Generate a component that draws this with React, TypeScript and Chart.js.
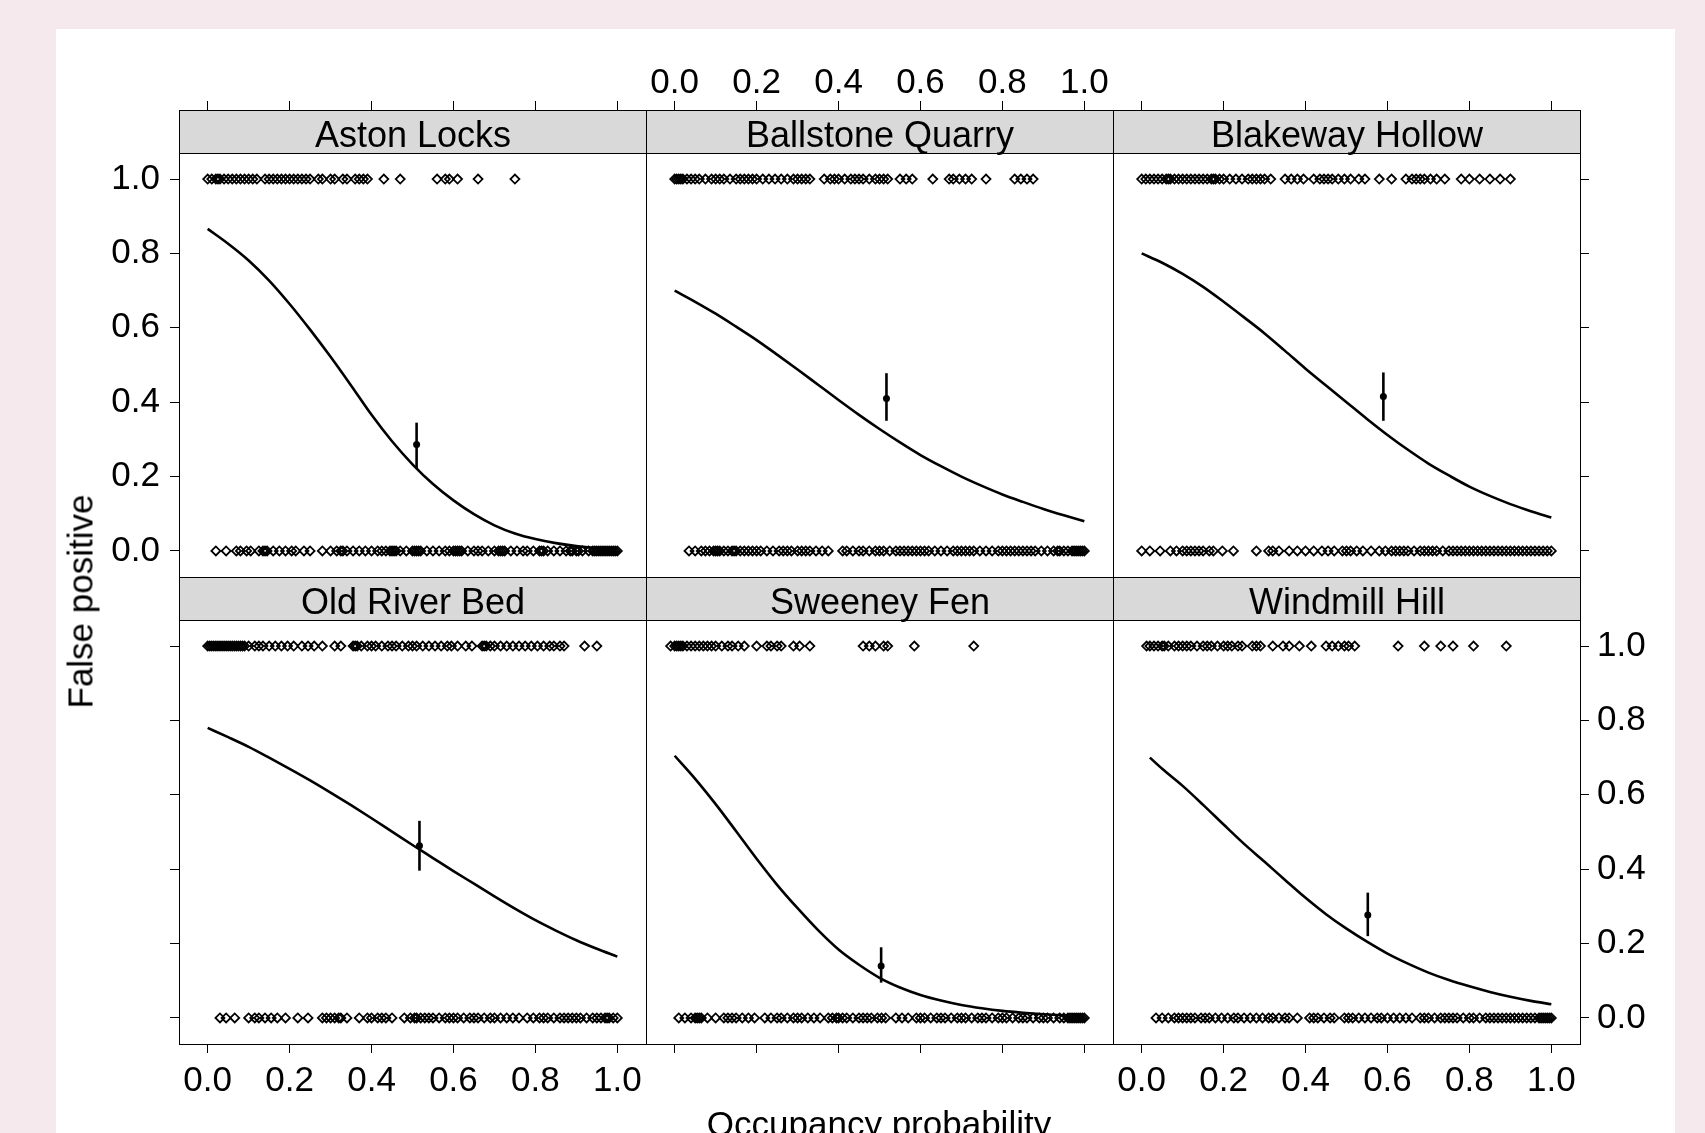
import React, { useEffect, useRef } from "react";
import { Chart, registerables } from "chart.js";

Chart.register(...registerables);

// ---------------- data ----------------
const PANEL_NAMES = ["Aston Locks", "Ballstone Quarry", "Blakeway Hollow", "Old River Bed", "Sweeney Fen", "Windmill Hill"];
const TICK_VALUES = [0, 0.2, 0.4, 0.6, 0.8, 1.0];
const X_TITLE = "Occupancy probability";
const Y_TITLE = "False positive";

// observed x positions of detections (y = 1) and non-detections (y = 0)
const ASTON_TOP = [0.0, 0.01, 0.02, 0.025, 0.03, 0.04, 0.05, 0.06, 0.07, 0.08, 0.09, 0.1, 0.11, 0.12, 0.14, 0.15, 0.16, 0.17, 0.18, 0.19, 0.2, 0.21, 0.22, 0.23, 0.24, 0.25, 0.27, 0.28, 0.3, 0.31, 0.33, 0.34, 0.36, 0.37, 0.38, 0.39, 0.43, 0.47, 0.56, 0.58, 0.59, 0.61, 0.66, 0.75];
const ASTON_BOTTOM = [0.02, 0.045, 0.07, 0.08, 0.095, 0.105, 0.125, 0.135, 0.14, 0.145, 0.16, 0.175, 0.19, 0.205, 0.215, 0.235, 0.25, 0.28, 0.3, 0.315, 0.325, 0.33, 0.34, 0.355, 0.37, 0.385, 0.4, 0.415, 0.425, 0.435, 0.445, 0.45, 0.455, 0.46, 0.47, 0.485, 0.5, 0.505, 0.51, 0.515, 0.52, 0.535, 0.55, 0.565, 0.58, 0.59, 0.6, 0.605, 0.61, 0.615, 0.62, 0.635, 0.65, 0.66, 0.67, 0.685, 0.7, 0.71, 0.715, 0.72, 0.725, 0.74, 0.755, 0.77, 0.78, 0.795, 0.81, 0.815, 0.82, 0.83, 0.845, 0.86, 0.875, 0.885, 0.89, 0.9, 0.905, 0.915, 0.93, 0.94, 0.945, 0.95, 0.955, 0.96, 0.965, 0.97, 0.975, 0.98, 0.985, 0.99, 0.995, 1.0];
const BALLSTONE_TOP = [0.0, 0.005, 0.01, 0.015, 0.02, 0.03, 0.04, 0.05, 0.06, 0.075, 0.09, 0.1, 0.11, 0.12, 0.135, 0.15, 0.16, 0.17, 0.18, 0.19, 0.2, 0.215, 0.23, 0.245, 0.26, 0.275, 0.29, 0.3, 0.31, 0.32, 0.33, 0.365, 0.38, 0.39, 0.4, 0.415, 0.43, 0.44, 0.45, 0.46, 0.475, 0.49, 0.5, 0.51, 0.52, 0.55, 0.565, 0.58, 0.63, 0.67, 0.68, 0.695, 0.71, 0.725, 0.76, 0.83, 0.845, 0.86, 0.875];
const BALLSTONE_BOTTOM = [0.035, 0.05, 0.065, 0.075, 0.085, 0.095, 0.1, 0.105, 0.11, 0.12, 0.13, 0.14, 0.145, 0.15, 0.16, 0.17, 0.18, 0.19, 0.2, 0.21, 0.225, 0.24, 0.255, 0.265, 0.275, 0.285, 0.3, 0.31, 0.32, 0.33, 0.345, 0.36, 0.375, 0.41, 0.42, 0.435, 0.45, 0.46, 0.475, 0.49, 0.5, 0.51, 0.525, 0.54, 0.55, 0.56, 0.57, 0.58, 0.59, 0.6, 0.61, 0.62, 0.635, 0.65, 0.665, 0.68, 0.69, 0.7, 0.71, 0.72, 0.73, 0.745, 0.76, 0.775, 0.79, 0.8, 0.81, 0.82, 0.83, 0.84, 0.85, 0.86, 0.87, 0.88, 0.895, 0.91, 0.925, 0.935, 0.94, 0.95, 0.96, 0.97, 0.975, 0.98, 0.985, 0.99, 0.995, 1.0];
const BLAKEWAY_TOP = [0.0, 0.01, 0.02, 0.03, 0.04, 0.05, 0.06, 0.065, 0.07, 0.08, 0.09, 0.1, 0.11, 0.12, 0.13, 0.14, 0.15, 0.16, 0.17, 0.175, 0.18, 0.19, 0.2, 0.215, 0.23, 0.245, 0.26, 0.27, 0.28, 0.29, 0.3, 0.315, 0.35, 0.365, 0.38, 0.395, 0.42, 0.435, 0.445, 0.455, 0.465, 0.48, 0.495, 0.51, 0.53, 0.545, 0.58, 0.61, 0.645, 0.66, 0.67, 0.68, 0.69, 0.705, 0.72, 0.74, 0.78, 0.8, 0.825, 0.85, 0.875, 0.9];
const BLAKEWAY_BOTTOM = [0.0, 0.02, 0.045, 0.07, 0.085, 0.1, 0.11, 0.12, 0.13, 0.14, 0.15, 0.165, 0.175, 0.197, 0.224, 0.28, 0.31, 0.32, 0.335, 0.36, 0.38, 0.4, 0.42, 0.44, 0.455, 0.47, 0.49, 0.5, 0.51, 0.525, 0.54, 0.56, 0.58, 0.595, 0.61, 0.62, 0.63, 0.64, 0.65, 0.665, 0.68, 0.69, 0.7, 0.71, 0.72, 0.735, 0.75, 0.76, 0.77, 0.78, 0.79, 0.8, 0.81, 0.82, 0.83, 0.84, 0.85, 0.86, 0.87, 0.88, 0.89, 0.9, 0.91, 0.92, 0.93, 0.94, 0.95, 0.96, 0.97, 0.98, 0.99, 1.0];
const OLDRIVER_TOP = [0.0, 0.005, 0.01, 0.015, 0.02, 0.025, 0.03, 0.035, 0.04, 0.045, 0.05, 0.055, 0.06, 0.065, 0.07, 0.075, 0.08, 0.085, 0.09, 0.1, 0.115, 0.125, 0.135, 0.15, 0.165, 0.18, 0.195, 0.21, 0.23, 0.245, 0.26, 0.28, 0.31, 0.325, 0.355, 0.36, 0.365, 0.375, 0.39, 0.4, 0.41, 0.425, 0.44, 0.45, 0.46, 0.475, 0.49, 0.5, 0.51, 0.525, 0.54, 0.555, 0.57, 0.585, 0.595, 0.61, 0.63, 0.645, 0.67, 0.675, 0.68, 0.69, 0.7, 0.715, 0.73, 0.745, 0.76, 0.775, 0.79, 0.805, 0.82, 0.835, 0.845, 0.86, 0.87, 0.92, 0.95];
const OLDRIVER_BOTTOM = [0.03, 0.045, 0.066, 0.1, 0.115, 0.125, 0.14, 0.155, 0.17, 0.19, 0.22, 0.245, 0.28, 0.29, 0.3, 0.31, 0.32, 0.325, 0.34, 0.37, 0.39, 0.4, 0.415, 0.425, 0.435, 0.45, 0.48, 0.495, 0.505, 0.51, 0.52, 0.53, 0.54, 0.55, 0.565, 0.58, 0.59, 0.6, 0.61, 0.625, 0.64, 0.65, 0.66, 0.675, 0.69, 0.7, 0.715, 0.73, 0.745, 0.76, 0.78, 0.795, 0.81, 0.82, 0.83, 0.845, 0.86, 0.87, 0.88, 0.89, 0.9, 0.91, 0.925, 0.94, 0.95, 0.96, 0.97, 0.975, 0.98, 0.99, 1.0];
const SWEENEY_TOP = [-0.01, 0.0, 0.005, 0.01, 0.015, 0.02, 0.03, 0.04, 0.05, 0.06, 0.07, 0.08, 0.09, 0.1, 0.115, 0.13, 0.14, 0.155, 0.17, 0.2, 0.225, 0.235, 0.25, 0.26, 0.29, 0.305, 0.33, 0.46, 0.475, 0.49, 0.51, 0.52, 0.585, 0.73];
const SWEENEY_BOTTOM = [0.01, 0.025, 0.04, 0.05, 0.055, 0.06, 0.065, 0.08, 0.1, 0.12, 0.13, 0.14, 0.15, 0.165, 0.18, 0.195, 0.22, 0.235, 0.25, 0.26, 0.275, 0.29, 0.3, 0.31, 0.325, 0.34, 0.355, 0.375, 0.385, 0.395, 0.4, 0.41, 0.42, 0.435, 0.45, 0.46, 0.47, 0.48, 0.495, 0.505, 0.515, 0.54, 0.555, 0.57, 0.59, 0.6, 0.61, 0.625, 0.64, 0.65, 0.66, 0.675, 0.69, 0.7, 0.71, 0.725, 0.74, 0.75, 0.76, 0.775, 0.79, 0.8, 0.81, 0.825, 0.84, 0.85, 0.86, 0.875, 0.89, 0.9, 0.91, 0.925, 0.94, 0.95, 0.96, 0.965, 0.97, 0.975, 0.98, 0.985, 0.99, 0.995, 1.0];
const WINDMILL_TOP = [0.012, 0.02, 0.03, 0.04, 0.05, 0.055, 0.065, 0.08, 0.09, 0.1, 0.11, 0.12, 0.135, 0.15, 0.16, 0.17, 0.185, 0.2, 0.21, 0.22, 0.235, 0.245, 0.27, 0.28, 0.29, 0.32, 0.345, 0.36, 0.385, 0.414, 0.45, 0.465, 0.48, 0.495, 0.505, 0.52, 0.626, 0.69, 0.73, 0.76, 0.81, 0.89];
const WINDMILL_BOTTOM = [0.035, 0.05, 0.065, 0.08, 0.09, 0.1, 0.11, 0.12, 0.13, 0.145, 0.155, 0.165, 0.18, 0.195, 0.21, 0.225, 0.235, 0.25, 0.265, 0.28, 0.295, 0.31, 0.32, 0.335, 0.35, 0.36, 0.38, 0.41, 0.42, 0.43, 0.445, 0.46, 0.47, 0.495, 0.505, 0.515, 0.53, 0.545, 0.56, 0.575, 0.585, 0.6, 0.615, 0.63, 0.645, 0.66, 0.68, 0.69, 0.7, 0.715, 0.73, 0.74, 0.75, 0.76, 0.77, 0.785, 0.8, 0.81, 0.825, 0.84, 0.85, 0.86, 0.87, 0.88, 0.89, 0.9, 0.91, 0.92, 0.93, 0.94, 0.95, 0.96, 0.97, 0.975, 0.98, 0.985, 0.99, 0.995, 1.0];

// fitted curves
const CURVE_X = [0, 0.05, 0.1, 0.15, 0.2, 0.25, 0.3, 0.35, 0.4, 0.45, 0.5, 0.55, 0.6, 0.65, 0.7, 0.75, 0.8, 0.85, 0.9, 0.95, 1.0];
const WINDMILL_CURVE_X = [0.02, 0.05, 0.1, 0.15, 0.2, 0.25, 0.3, 0.35, 0.4, 0.45, 0.5, 0.55, 0.6, 0.65, 0.7, 0.75, 0.8, 0.85, 0.9, 0.95, 1.0];
const ASTON_CURVE = [0.866, 0.826, 0.781, 0.727, 0.664, 0.595, 0.522, 0.445, 0.366, 0.295, 0.233, 0.18, 0.136, 0.099, 0.069, 0.047, 0.032, 0.021, 0.013, 0.008, 0.005];
const BALLSTONE_CURVE = [0.7, 0.67, 0.638, 0.603, 0.567, 0.528, 0.488, 0.447, 0.406, 0.366, 0.328, 0.292, 0.258, 0.228, 0.2, 0.175, 0.152, 0.132, 0.113, 0.096, 0.08];
const BLAKEWAY_CURVE = [0.8, 0.775, 0.745, 0.71, 0.67, 0.628, 0.585, 0.538, 0.49, 0.445, 0.4, 0.355, 0.312, 0.272, 0.235, 0.203, 0.173, 0.148, 0.126, 0.107, 0.09];
const OLDRIVER_CURVE = [0.78, 0.755, 0.729, 0.7, 0.67, 0.639, 0.606, 0.572, 0.537, 0.501, 0.465, 0.43, 0.395, 0.361, 0.327, 0.294, 0.263, 0.235, 0.209, 0.186, 0.165];
const SWEENEY_CURVE = [0.705, 0.643, 0.575, 0.502, 0.428, 0.358, 0.295, 0.236, 0.184, 0.143, 0.108, 0.082, 0.062, 0.047, 0.035, 0.026, 0.019, 0.014, 0.01, 0.007, 0.004];
const WINDMILL_CURVE = [0.7, 0.67, 0.624, 0.573, 0.52, 0.468, 0.42, 0.371, 0.323, 0.279, 0.24, 0.205, 0.173, 0.146, 0.122, 0.102, 0.085, 0.07, 0.057, 0.046, 0.037];

// observed proportion with interval, one per site
const ERR_X = [0.51, 0.517, 0.59, 0.517, 0.504, 0.552];
const ERR_MID = [0.286, 0.41, 0.415, 0.463, 0.14, 0.277];
const ERR_LO = [0.222, 0.35, 0.35, 0.396, 0.095, 0.22];
const ERR_HI = [0.345, 0.478, 0.48, 0.53, 0.19, 0.337];

const TOPS = [ASTON_TOP, BALLSTONE_TOP, BLAKEWAY_TOP, OLDRIVER_TOP, SWEENEY_TOP, WINDMILL_TOP];
const BOTTOMS = [ASTON_BOTTOM, BALLSTONE_BOTTOM, BLAKEWAY_BOTTOM, OLDRIVER_BOTTOM, SWEENEY_BOTTOM, WINDMILL_BOTTOM];
const CURVES = [ASTON_CURVE, BALLSTONE_CURVE, BLAKEWAY_CURVE, OLDRIVER_CURVE, SWEENEY_CURVE, WINDMILL_CURVE];
const CURVE_XS = [CURVE_X, CURVE_X, CURVE_X, CURVE_X, CURVE_X, WINDMILL_CURVE_X];

// ---------------- layout ----------------
const FONT = "'Liberation Sans', Arial, Helvetica, sans-serif";
const PANEL_W = 467;
const PLOT_H = 424;
const STRIP_H = 43;
const ROW_H = PLOT_H + STRIP_H;
const COL_LEFT = [179, 646, 1113];
const ROW_TOP = [110, 577];
const ML = 120, MR = 120, MT = 80, MB = 80;
const X_MIN = -0.07, X_MAX = 1.07;
const Y_MIN = -0.07;
const Y_MAX = 1.07 + STRIP_H / (PLOT_H / 1.14);
const TICK_LEN = 9;
const TICK_FONT = 35;

function stripPlugin(name: string) {
  return {
    id: "strip",
    afterDraw(chart: any) {
      const { ctx, chartArea } = chart;
      const l = Math.round(chartArea.left) + 0.5;
      const r = Math.round(chartArea.right) + 0.5;
      const t = Math.round(chartArea.top) + 0.5;
      ctx.save();
      ctx.fillStyle = "#d9d9d9";
      ctx.fillRect(l, t, r - l, STRIP_H);
      ctx.strokeStyle = "#000";
      ctx.lineWidth = 1;
      ctx.strokeRect(l, t, r - l, STRIP_H);
      ctx.fillStyle = "#000";
      ctx.font = `36px ${FONT}`;
      ctx.textAlign = "center";
      ctx.textBaseline = "alphabetic";
      ctx.fillText(name, (l + r) / 2, t + 36);
      ctx.restore();
    },
  };
}

function Panel({ idx }: { idx: number }) {
  const ref = useRef<HTMLCanvasElement | null>(null);
  const r = Math.floor(idx / 3);
  const c = idx % 3;
  useEffect(() => {
    if (!ref.current) return;
    const fixTicks = (s: any) => {
      s.ticks = TICK_VALUES.map((v) => ({ value: v }));
    };
    const fmt = (v: any) => Number(v).toFixed(1);
    const axis = (opts: {
      position: string;
      min: number;
      max: number;
      ticks: boolean;
      labels: boolean;
      size: number;
      padding: number;
      horizontal: boolean;
    }) => ({
      type: "linear",
      position: opts.position,
      min: opts.min,
      max: opts.max,
      afterBuildTicks: fixTicks,
      afterFit: (s: any) => {
        if (opts.horizontal) s.height = opts.size;
        else s.width = opts.size;
      },
      grid: {
        display: opts.ticks,
        drawOnChartArea: false,
        drawTicks: opts.ticks,
        tickLength: TICK_LEN,
        color: "#000",
        lineWidth: 1,
      },
      border: { display: true, color: "#000", width: 1 },
      ticks: {
        display: opts.labels,
        color: "#000",
        font: { family: FONT, size: TICK_FONT },
        padding: opts.padding,
        autoSkip: false,
        maxRotation: 0,
        minRotation: 0,
        callback: fmt,
      },
    });

    const diamonds = (xs: number[], yv: number) => ({
      type: "scatter",
      data: xs.map((x) => ({ x, y: yv })),
      pointStyle: "rectRot",
      pointRadius: 4.5,
      borderColor: "#000",
      backgroundColor: "rgba(0,0,0,0)",
      borderWidth: 1.8,
    });

    const datasets: any[] = [
      diamonds(TOPS[idx], 1),
      diamonds(BOTTOMS[idx], 0),
      {
        type: "line",
        data: CURVE_XS[idx].map((x, i) => ({ x, y: CURVES[idx][i] })),
        borderColor: "#000",
        borderWidth: 2.6,
        pointRadius: 0,
        cubicInterpolationMode: "monotone",
        fill: false,
      },
      {
        type: "line",
        data: [
          { x: ERR_X[idx], y: ERR_LO[idx] },
          { x: ERR_X[idx], y: ERR_HI[idx] },
        ],
        borderColor: "#000",
        borderWidth: 2.6,
        pointRadius: 0,
        fill: false,
      },
      {
        type: "scatter",
        data: [{ x: ERR_X[idx], y: ERR_MID[idx] }],
        pointStyle: "circle",
        pointRadius: 3.5,
        borderColor: "#000",
        backgroundColor: "#000",
        borderWidth: 0,
      },
    ];

    const chart = new Chart(ref.current, {
      type: "scatter",
      data: { datasets },
      options: {
        animation: false,
        responsive: false,
        events: [],
        layout: { padding: 0 },
        plugins: { legend: { display: false }, tooltip: { enabled: false } },
        scales: {
          x: axis({ position: "bottom", min: X_MIN, max: X_MAX, ticks: r === 1, labels: r === 1 && c !== 1, size: MB, padding: 7, horizontal: true }),
          x2: axis({ position: "top", min: X_MIN, max: X_MAX, ticks: r === 0, labels: r === 0 && c === 1, size: MT, padding: -3, horizontal: true }),
          y: axis({ position: "left", min: Y_MIN, max: Y_MAX, ticks: c === 0, labels: c === 0 && r === 0, size: ML, padding: 10, horizontal: false }),
          y2: axis({ position: "right", min: Y_MIN, max: Y_MAX, ticks: c === 2, labels: c === 2 && r === 1, size: MR, padding: 8, horizontal: false }),
        } as any,
      },
      plugins: [stripPlugin(PANEL_NAMES[idx])],
    } as any);
    return () => chart.destroy();
  }, [idx]);

  const w = ML + PANEL_W + MR;
  const h = MT + ROW_H + MB;
  return (
    <canvas
      ref={ref}
      width={w}
      height={h}
      style={{ position: "absolute", left: COL_LEFT[c] - ML, top: ROW_TOP[r] - MT, width: w, height: h }}
    />
  );
}

export default function App() {
  return (
    <div style={{ position: "absolute", left: 0, top: 0, width: 1705, height: 1133, overflow: "hidden", background: "#f6e9ee" }}>
      <div style={{ position: "absolute", left: 56, top: 29, width: 1619, height: 1200, background: "#ffffff" }} />
      {[0, 1, 2, 3, 4, 5].map((i) => (
        <Panel key={i} idx={i} />
      ))}
      <div
        style={{
          position: "absolute",
          left: 80 - 200,
          top: 601 - 17.5,
          width: 400,
          height: 35,
          lineHeight: "35px",
          textAlign: "center",
          fontFamily: FONT,
          fontSize: 35,
          color: "#000",
          transform: "rotate(-90deg)",
          whiteSpace: "nowrap",
        }}
      >
        {Y_TITLE}
      </div>
      <div
        style={{
          position: "absolute",
          left: 879 - 300,
          top: 1106,
          width: 600,
          height: 35,
          lineHeight: "35px",
          textAlign: "center",
          fontFamily: FONT,
          fontSize: 35,
          color: "#000",
          whiteSpace: "nowrap",
        }}
      >
        {X_TITLE}
      </div>
    </div>
  );
}
